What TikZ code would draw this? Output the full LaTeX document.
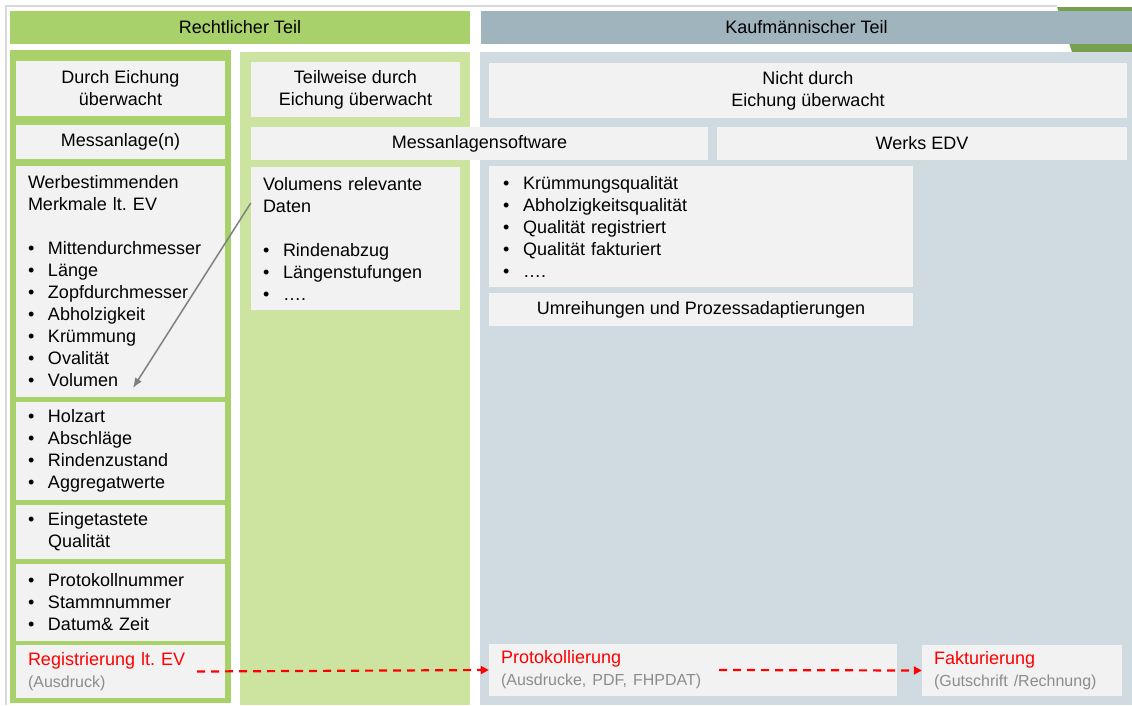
\documentclass[tikz,border=0pt]{standalone}
\usepackage{fontspec}
\setmainfont{Liberation Sans}
\usepackage{xcolor}
\usetikzlibrary{arrows.meta}

\definecolor{gruen}{HTML}{A9D16B}
\definecolor{hellgruen}{HTML}{CDE4A0}
\definecolor{dunkelgruen}{HTML}{76A050}
\definecolor{blaugrau}{HTML}{A0B4BE}
\definecolor{hellblau}{HTML}{CFDBE0}
\definecolor{kasten}{HTML}{F2F2F2}
\definecolor{rahmen}{HTML}{D9D9D9}
\definecolor{grautext}{HTML}{8C8C8C}

\newcommand{\bul}{\makebox[20pt][l]{\textbullet}}
\newcommand{\klein}{\color{grautext}\fontsize{16}{19}\selectfont}

\tikzset{
  feld/.style={fill=kasten, inner xsep=12pt, inner ysep=0pt, align=center,
    font=\frenchspacing\fontsize{18}{22}\selectfont},
  liste/.style={feld, align=left, text width=#1},
  kopf/.style={minimum height=33pt, inner sep=0pt, font=\fontsize{18}{22}\selectfont},
  pfeil/.style={draw=red, line width=2.2pt, dash pattern=on 8pt off 6pt,
    -{Triangle[length=8pt,width=8pt]}},
  zeiger/.style={draw=gray, line width=1.5pt, -{Latex[length=10pt,width=8pt]}}
}

\begin{document}
\begin{tikzpicture}[x=1pt,y=-1pt]
\useasboundingbox (0,0) rectangle (1132,705);
\draw[rahmen, line width=1.5pt] (6,705) -- (6,6) -- (1057,6);

% Kopfzeilen
\fill[dunkelgruen] (1057,7) -- (1132,7) -- (1132,52) -- (1072,52) -- cycle;
\node[kopf, fill=gruen, minimum width=460pt] (recht) at (240,27.5) {Rechtlicher Teil};
\node[kopf, fill=blaugrau, minimum width=651pt] (kauf) at (806.5,27.5) {Kaufmännischer Teil};

% Spalten
\fill[gruen] (10,50) rectangle (231,703);
\fill[hellgruen] (240,52) rectangle (470,705);
\fill[hellblau] (480,52) rectangle (1132,705);

% Spalte 1
\node[feld, minimum width=209pt, minimum height=55pt] (eich1) at (120.5,88.5) {Durch Eichung\\überwacht};
\node[feld, minimum width=209pt, minimum height=34pt] (anlage) at (120.5,142) {Messanlage(n)};
\node[liste=185pt, minimum height=231pt] (merk) at (120.5,281.5)
  {Werbestimmenden\\Merkmale lt. EV\\[22pt]
   \bul Mittendurchmesser\\\bul Länge\\\bul Zopfdurchmesser\\\bul Abholzigkeit\\
   \bul Krümmung\\\bul Ovalität\\\bul Volumen};
\node[liste=185pt, minimum height=98pt] (holz) at (120.5,451)
  {\bul Holzart\\\bul Abschläge\\\bul Rindenzustand\\\bul Aggregatwerte};
\node[liste=185pt, minimum height=54pt] (eing) at (120.5,532)
  {\bul Eingetastete\\\hspace*{20pt}Qualität};
\node[liste=185pt, minimum height=77pt] (nummer) at (120.5,602.5)
  {\bul Protokollnummer\\\bul Stammnummer\\\bul Datum\& Zeit};
\node[liste=185pt, minimum height=53pt] (reg) at (120.5,671.5)
  {\textcolor{red}{Registrierung lt. EV}\\{\klein (Ausdruck)}};

% Spalte 2
\node[feld, minimum width=209pt, minimum height=55pt] (eich2) at (355.5,89.5) {Teilweise durch\\Eichung überwacht};
\node[feld, minimum width=457pt, minimum height=33pt] (software) at (479.5,143.5) {Messanlagensoftware};
\node[liste=185pt, minimum height=143pt] (vol) at (355.5,238.5)
  {Volumens relevante\\Daten\\[22pt]
   \bul Rindenabzug\\\bul Längenstufungen\\\bul ….};

% Spalte 3
\node[feld, minimum width=638pt, minimum height=55pt] (eich3) at (808,90.5) {Nicht durch\\Eichung überwacht};
\node[feld, minimum width=410pt, minimum height=33pt] (edv) at (922,143.5) {Werks EDV};
\node[liste=396pt, inner xsep=14pt, minimum height=121pt] (qual) at (701,226.5)
  {\bul Krümmungsqualität\\\bul Abholzigkeitsqualität\\\bul Qualität registriert\\
   \bul Qualität fakturiert\\\bul ….};
\node[feld, minimum width=424pt, minimum height=33pt] (umr) at (701,309.5) {Umreihungen und Prozessadaptierungen};
\node[liste=384pt, minimum height=52pt] (protk) at (693,670)
  {\textcolor{red}{Protokollierung}\\{\klein (Ausdrucke, PDF, FHPDAT)}};
\node[liste=176pt, minimum height=51pt] (fakt) at (1022,670.5)
  {\textcolor{red}{Fakturierung}\\{\klein (Gutschrift /Rechnung)}};

% Pfeile
\coordinate (volende) at (133,388);
\draw[zeiger] ([yshift=35.5pt]vol.west) -- (volende);
\draw[pfeil] ([xshift=-28pt]reg.east) -- (protk.west);
\draw[pfeil] ([xshift=-178pt]protk.east) -- (fakt.west);

\end{tikzpicture}
\end{document}
